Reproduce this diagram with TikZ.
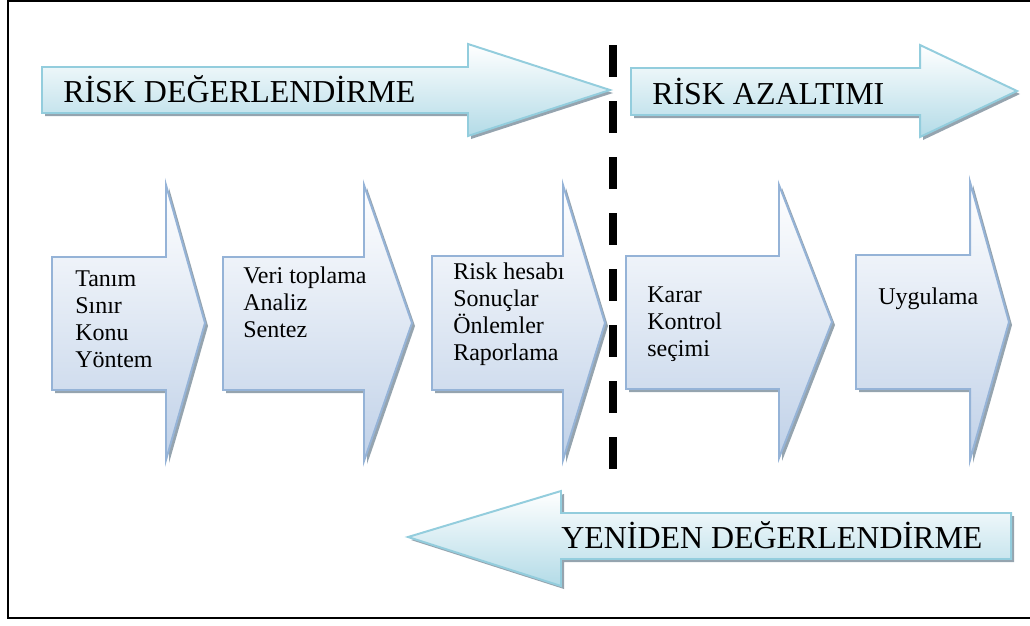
\documentclass[tikz,border=0pt]{standalone}
\usepackage{fontspec}
\setmainfont{Liberation Serif}
\usetikzlibrary{shadows}

\definecolor{cyanline}{HTML}{93CDDD}
\definecolor{cyanfill}{HTML}{B3DBE7}
\definecolor{blueline}{HTML}{95B3D7}
\definecolor{bluefill}{HTML}{C0D1E8}
\definecolor{shadowgray}{HTML}{8A9AA6}

\begin{document}
\begin{tikzpicture}[x=0.025cm,y=-0.025cm,
		phasearrow/.style={draw=cyanline,line width=1.4pt,top color=white,bottom color=cyanfill,
			drop shadow={shadow xshift=0.075cm,shadow yshift=-0.075cm,fill=shadowgray,opacity=0.9}},
		steparrow/.style={draw=blueline,line width=1.4pt,top color=white,bottom color=bluefill,
			drop shadow={shadow xshift=0.075cm,shadow yshift=-0.075cm,fill=shadowgray,opacity=0.9}},
		phasetext/.style={anchor=base west,inner sep=0pt,font=\fontsize{22.7}{27}\selectfont},
		steptext/.style={anchor=north west,inner sep=0pt,align=left,font=\fontsize{17.07}{19.2}\selectfont}]
		\useasboundingbox (0,0) rectangle (1030,625);

		% frame
		\draw[line width=0.05cm] (8,1) rectangle (1036,618);

		% phase arrows
		\draw[phasearrow] (42,67) -- (468,67) -- (468,44) -- (610,90) -- (468,136) -- (468,113) -- (42,113) -- cycle;
		\node[phasetext] (riskdeg) at (63,102) {RİSK DEĞERLENDİRME};

		\draw[phasearrow] (631,68) -- (920,68) -- (920,45) -- (1017,91) -- (920,137) -- (920,115) -- (631,115) -- cycle;
		\node[phasetext] (azaltim) at (652,104) {RİSK AZALTIMI};

		\draw[phasearrow] (1011,513) -- (561,513) -- (561,491) -- (408,537) -- (561,586) -- (561,559) -- (1011,559) -- cycle;
		\node[phasetext] (yeniden) at (561,548) {YENİDEN DEĞERLENDİRME};

		% step arrows
		\draw[steparrow] (52,257) -- (166,257) -- (166,185) -- (205,323) -- (166,460) -- (166,390) -- (52,390) -- cycle;
		\node[steptext] (tanim) at (75,270) {Tanım\\Sınır\\Konu\\Yöntem};

		\draw[steparrow] (223,257) -- (364,257) -- (364,185) -- (412,323) -- (364,461) -- (364,390) -- (223,390) -- cycle;
		\node[steptext] (veri) at (243,267) {Veri toplama\\Analiz\\Sentez};

		\draw[steparrow] (432,256) -- (563,256) -- (563,185) -- (605,323) -- (563,460) -- (563,390) -- (432,390) -- cycle;
		\node[steptext] (hesap) at (453,263) {Risk hesabı\\Sonuçlar\\Önlemler\\Raporlama};

		\draw[steparrow] (626,256) -- (779,256) -- (779,185) -- (832,322) -- (779,458) -- (779,389) -- (626,389) -- cycle;
		\node[steptext] (karar) at (647,286) {Karar\\Kontrol\\seçimi};

		\draw[steparrow] (856,255) -- (970,255) -- (970,182) -- (1009,322) -- (970,460) -- (970,389) -- (856,389) -- cycle;
		\node[steptext] (uygula) at (878,288) {Uygulama};

		% boundary
		\coordinate (sinirust) at (613,45);
		\coordinate (siniralt) at (613,469);
		\draw[line width=0.2cm,dash pattern=on 0.8cm off 0.6cm] (sinirust) -- (siniralt);
	\end{tikzpicture}
\end{document}
